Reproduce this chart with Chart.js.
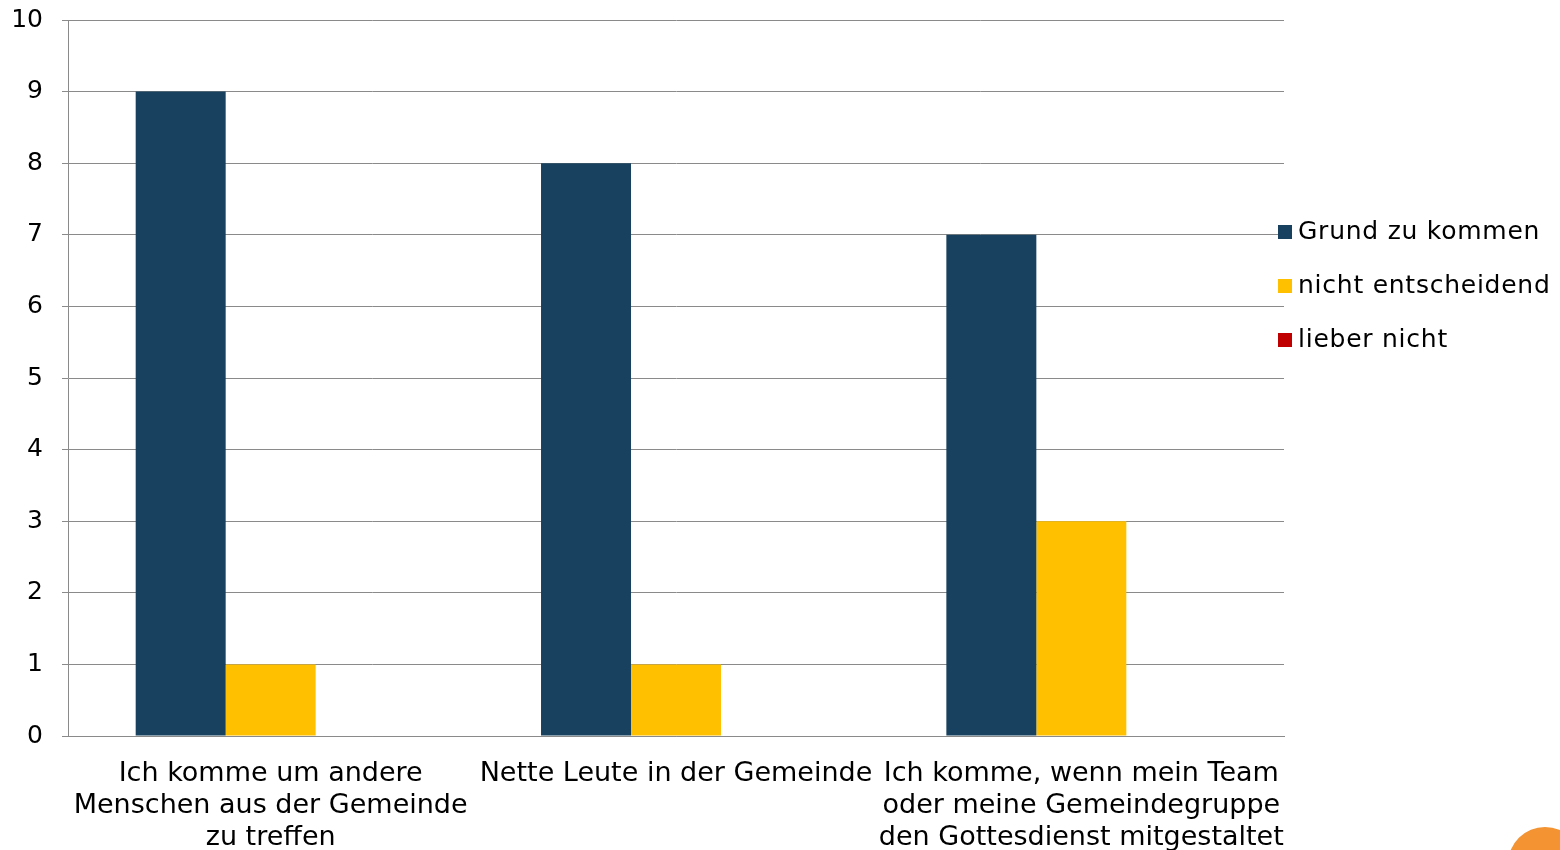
<!DOCTYPE html>
<html>
<head>
<meta charset="utf-8">
<script src="https://cdn.jsdelivr.net/npm/chart.js@4.4.1/dist/chart.umd.min.js"></script>
<style>
  html, body { margin: 0; padding: 0; background: #fff; overflow: hidden; }
  #wrap { position: relative; width: 1560px; height: 850px; }
  #logo { position: absolute; left: 1508px; top: 827px; width: 74px; height: 74px; border-radius: 50%; background: #F39332; }
</style>
</head>
<body>
<div id="wrap">
  <canvas id="c" width="1560" height="850"></canvas>
  <div id="logo"></div>
</div>
<script>
const categories = [
  ["Ich komme um andere", "Menschen aus der Gemeinde", "zu treffen"],
  ["Nette Leute in der Gemeinde"],
  ["Ich komme, wenn mein Team", "oder meine Gemeindegruppe", "den Gottesdienst mitgestaltet"]
];
const seriesNames = ["Grund zu kommen", "nicht entscheidend", "lieber nicht"];
const grundZuKommen = [9, 8, 7];
const nichtEntscheidend = [1, 1, 3];
const lieberNicht = [0, 0, 0];
const yTicks = [0, 1, 2, 3, 4, 5, 6, 7, 8, 9, 10];
const colors = ["#17415E", "#FFC000", "#C00000"];

const FONT = "'DejaVu Sans', Verdana, sans-serif";
const FSIZE = 25;
const gridColor = "#8a8a8a";

const spacingPlugin = {
  id: 'spacing',
  beforeInit(chart) { chart.ctx.letterSpacing = '1px'; }
};

const legendPlugin = {
  id: 'customLegend',
  afterDraw(chart) {
    const ctx = chart.ctx;
    ctx.save();
    ctx.letterSpacing = '0.75px';
    ctx.font = FSIZE + "px " + FONT;
    ctx.textBaseline = 'middle';
    ctx.textAlign = 'left';
    chart.data.datasets.forEach((ds, i) => {
      const cy = 232 + i * 54;
      ctx.fillStyle = ds.backgroundColor;
      ctx.fillRect(1278, cy - 7, 14, 14);
      ctx.fillStyle = '#000';
      ctx.fillText(ds.label, 1298, cy);
    });
    ctx.restore();
  }
};

new Chart(document.getElementById('c'), {
  type: 'bar',
  data: {
    labels: categories,
    datasets: [
      { label: seriesNames[0], data: grundZuKommen, backgroundColor: colors[0] },
      { label: seriesNames[1], data: nichtEntscheidend, backgroundColor: colors[1] },
      { label: seriesNames[2], data: lieberNicht, backgroundColor: colors[2] }
    ]
  },
  options: {
    responsive: false,
    animation: false,
    layout: { padding: { left: 0, right: 276, top: 20, bottom: 0 } },
    datasets: { bar: { categoryPercentage: 0.666, barPercentage: 1.0, borderWidth: 0 } },
    plugins: { legend: { display: false }, tooltip: { enabled: false } },
    scales: {
      x: {
        grid: { display: false, drawTicks: false },
        border: { display: true, color: gridColor, width: 1 },
        ticks: { color: '#000', font: { family: FONT, size: 27, lineHeight: '32px' }, padding: 22, maxRotation: 0, autoSkip: false },
        afterFit(scale) { scale.height = 114; scale.paddingLeft = 0; scale.paddingRight = 0; }
      },
      y: {
        min: 0, max: 10,
        afterBuildTicks(scale) { scale.ticks = yTicks.map(v => ({ value: v })); },
        grid: { color: gridColor, lineWidth: 1, drawTicks: true, tickLength: 6, tickColor: gridColor },
        border: { display: true, color: gridColor, width: 1 },
        ticks: { color: '#000', font: { family: FONT, size: FSIZE }, padding: 19 },
        afterFit(scale) { scale.width = 68; scale.paddingTop = 0; scale.paddingBottom = 0; }
      }
    }
  },
  plugins: [spacingPlugin, legendPlugin]
});
</script>
</body>
</html>
